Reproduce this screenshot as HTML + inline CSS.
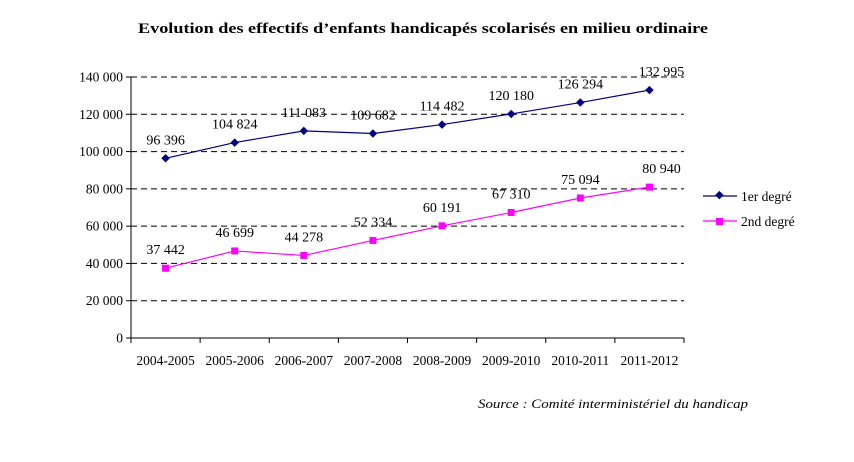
<!DOCTYPE html>
<html><head><meta charset="utf-8"><style>
html,body{margin:0;padding:0;background:#fff;}
svg{display:block;font-family:"Liberation Serif",serif;}
</style></head><body>
<svg id="chart" width="854" height="462" viewBox="0 0 854 462">
<text x="138" y="33" textLength="570" lengthAdjust="spacingAndGlyphs" font-size="15" font-weight="bold">Evolution des effectifs d’enfants handicapés scolarisés en milieu ordinaire</text>
<g id="grid"></g><g id="axes"></g><g id="series"></g>
<g>
<g>
<line x1="703" y1="196" x2="737" y2="196" stroke="#000080" stroke-width="1.2"/>
<rect x="716" y="192" width="6" height="6" fill="#000080" transform="rotate(45 719 195.5)"/>
<text x="741" y="201" font-size="13.5">1er degré</text></g>
<g>
<line x1="703" y1="221" x2="737" y2="221" stroke="#ff00ff" stroke-width="1.2"/>
<rect x="716" y="218" width="7" height="7" fill="#ff00ff"/>
<text x="741" y="226" font-size="13.5">2nd degré</text></g>
</g>
<text x="478" y="408" textLength="270" lengthAdjust="spacingAndGlyphs" font-size="13" font-style="italic">Source : Comité interministériel du handicap</text>
</svg>
<script>
const categories=["2004-2005","2005-2006","2006-2007","2007-2008","2008-2009","2009-2010","2010-2011","2011-2012"];
const series1=[96396,104824,111083,109682,114482,120180,126294,132995];
const series2=[37442,46699,44278,52334,60191,67310,75094,80940];
const yTicks=[0,20000,40000,60000,80000,100000,120000,140000];
const NS="http://www.w3.org/2000/svg";
const L=131,R=684,T=77,B=338,maxV=140000;
const bw=(R-L)/categories.length;
const xs=i=>L+bw*(i+0.5);
const ys=v=>B-(v/maxV)*(B-T);
const fmt=v=>String(v).replace(/\B(?=(\d{3})+(?!\d))/g," ");
function mk(tag,attrs,parent){const e=document.createElementNS(NS,tag);for(const k in attrs)e.setAttribute(k,attrs[k]);parent.appendChild(e);return e;}
const grid=document.getElementById('grid'),axes=document.getElementById('axes'),ser=document.getElementById('series');
yTicks.forEach(v=>{
  const y=ys(v);
  if(v>0){const g=mk('line',{x1:L,x2:R,y1:y,y2:y,stroke:'#000','stroke-width':1,'stroke-dasharray':'6,4'},grid);
  
  }
  mk('line',{x1:L-5,x2:L,y1:y,y2:y,stroke:'#000'},axes);
  const t=mk('text',{x:L-8,y:y+4.5,'text-anchor':'end','font-size':13.5},axes);t.textContent=fmt(v);
  
  
});
mk('line',{x1:L,x2:L,y1:T,y2:B,stroke:'#000'},axes);
mk('line',{x1:L,x2:R,y1:B,y2:B,stroke:'#000'},axes);
for(let i=0;i<=categories.length;i++){mk('line',{x1:L+bw*i,x2:L+bw*i,y1:B,y2:B+5,stroke:'#000'},axes);}
categories.forEach((c,i)=>{const t=mk('text',{x:xs(i),y:B+27,'text-anchor':'middle','font-size':13.5},axes);t.textContent=c;
  
  });
function draw(vals,color,shape,name){
  const g=mk('g',{},ser);
  
  
  mk('polyline',{points:vals.map((v,i)=>xs(i)+','+ys(v)).join(' '),fill:'none',stroke:color,'stroke-width':1.2},g);
  vals.forEach((v,i)=>{const x=xs(i),y=ys(v);let m;
    if(shape==='d')m=mk('rect',{x:x-3,y:y-3,width:6,height:6,fill:color,transform:`rotate(45 ${x} ${y})`},g);
    else m=mk('rect',{x:x-3.5,y:y-3.5,width:7,height:7,fill:color},g);
    
    
    const t=mk('text',{x:x+(i===7?12:0),y:y-14,'text-anchor':'middle','font-size':14},g);t.textContent=fmt(v);
    
    
  });
}
draw(series1,'#000080','d','series-1er-degre');
draw(series2,'#ff00ff','s','series-2nd-degre');
</script>
</body></html>
